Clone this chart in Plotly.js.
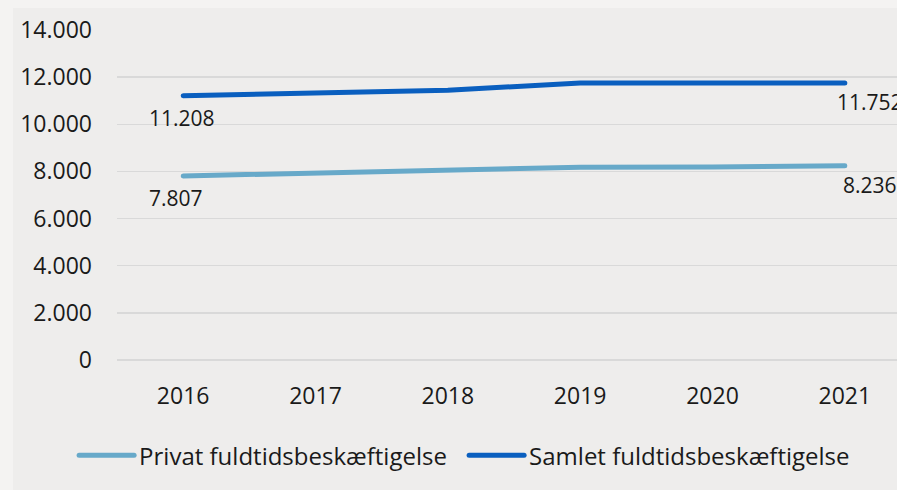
<!DOCTYPE html>
<html>
<head>
<meta charset="utf-8">
<script src="https://cdn.plot.ly/plotly-3.0.1.min.js"></script>
<style>
  html, body { margin: 0; padding: 0; background: #f4f3f2; overflow: hidden; width: 897px; height: 490px; }
  #plot { position: absolute; left: 13px; top: 8px; width: 960px; height: 482px; }
  #plot .scatterlayer path.js-line, #plot .legend path.js-line { stroke-linecap: round; stroke-linejoin: round; }
</style>
</head>
<body>
<div id="plot"></div>
<script>
// Fuldtidsbeskæftigelse 2016-2021
var years = ["2016", "2017", "2018", "2019", "2020", "2021"];
var privat = [7807, 7935, 8070, 8180, 8190, 8236];
var samlet = [11208, 11300, 11440, 11755, 11750, 11752];

var font = "Open Sans, sans-serif";

// dansk tusindtalsseparator
function fmt(v) {
    return String(v).replace(/\B(?=(\d{3})+(?!\d))/g, ".");
}

var trace1 = {
    x: years,
    y: privat,
    type: "scatter",
    mode: "lines",
    name: "Privat fuldtidsbeskæftigelse",
    line: {color: "#67a9c9", width: 5},
    hoverinfo: "skip"
};
var trace2 = {
    x: years,
    y: samlet,
    type: "scatter",
    mode: "lines",
    name: "Samlet fuldtidsbeskæftigelse",
    line: {color: "#0a5fbf", width: 5},
    hoverinfo: "skip"
};

// datalabels paa foerste og sidste punkt (x = kategoriindeks)
var annotations = [];
[privat, samlet].forEach(function (s) {
    var last = s.length - 1;
    annotations.push({
        xref: "x", yref: "y",
        x: 0, y: s[0], text: fmt(s[0]),
        showarrow: false, xanchor: "left", yanchor: "middle",
        xshift: -36, yshift: -22,
        font: {family: font, size: 21, color: "#1a1a1a"}
    });
    annotations.push({
        xref: "x", yref: "y",
        x: last, y: s[last], text: fmt(s[last]),
        showarrow: false, xanchor: "center", yanchor: "middle",
        xshift: 25, yshift: -19,
        font: {family: font, size: 21, color: "#1a1a1a"}
    });
});

var layout = {
    paper_bgcolor: "#eeedec",
    plot_bgcolor: "#eeedec",
    margin: {l: 104, r: 62, t: 22, b: 130},
    font: {family: font, size: 23, color: "#1a1a1a"},
    separators: ",.",
    showlegend: true,
    legend: {
        orientation: "h",
        x: -0.054, xanchor: "left",
        y: -0.29, yanchor: "middle",
        font: {family: font, size: 24, color: "#1a1a1a"},
        itemwidth: 55,
        entrywidth: 320,
        bgcolor: "rgba(0,0,0,0)"
    },
    xaxis: {
        type: "category",
        range: [-0.5, 5.5],
        showgrid: false,
        showline: false,
        zeroline: false,
        ticks: "",
        ticklabelstandoff: 20,
        tickfont: {family: font, size: 23, color: "#1a1a1a"}
    },
    yaxis: {
        range: [0, 14000],
        dtick: 2000,
        tickformat: ",d",
        showgrid: true,
        gridcolor: "#d9d9d9",
        gridwidth: 1.5,
        zeroline: true,
        zerolinecolor: "#d9d9d9",
        zerolinewidth: 1.5,
        showline: false,
        ticks: "",
        ticklabelstandoff: 24,
        tickfont: {family: font, size: 23, color: "#1a1a1a"}
    },
    annotations: annotations
};

Plotly.newPlot("plot", [trace1, trace2], layout, {displayModeBar: false, staticPlot: true});
</script>
</body>
</html>
